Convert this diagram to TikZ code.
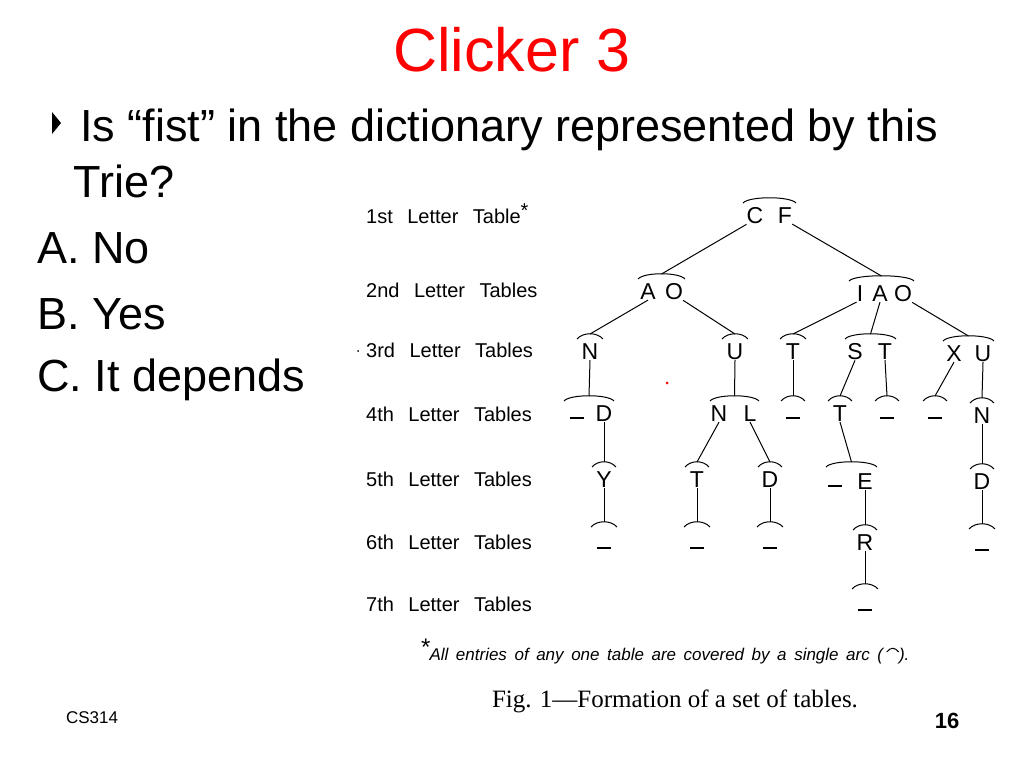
\documentclass[tikz,border=0pt]{standalone}
\usepackage{fontspec}
\setmainfont{Liberation Sans}
\newfontfamily\capfont{Liberation Serif}
\begin{document}
\begin{tikzpicture}[x=1pt,y=-1pt,
  lt/.style={font=\fontsize{23}{23}\selectfont, inner sep=0pt},
  lbl/.style={font=\fontsize{20}{20}\selectfont, anchor=west, inner sep=0pt},
  big/.style={font=\fontsize{45}{45}\selectfont, anchor=west, inner sep=0pt},
  tr/.style={line width=1pt}]
\useasboundingbox (0,0) rectangle (1024,768);
\newcommand{\ub}{\rule[-2pt]{14pt}{2pt}}
\newcommand{\tabarc}[4]{\draw[tr] (#2,#4-13) .. controls (#2+6,#4-20) and (#3-6,#4-20) .. (#3,#4-13); \coordinate (#1) at ({(#2+#3)/2},#4-18);}
% title and text
\node[font=\fontsize{61}{61}\selectfont, text=red] (title) at (512,50) {Clicker 3};
\fill (52,112) -- (52,134) -- (61,123) -- cycle;
\node[big] (q1) at (80,130) {Is “fist” in the dictionary represented by this};
\node[big] (q2) at (73,181) {Trie?};
\node[big] (oa) at (37,248) {A. No};
\node[big] (ob) at (37,314) {B. Yes};
\node[big] (oc) at (37,380) {C. It depends};
\node[font=\fontsize{17}{17}\selectfont, inner sep=0pt] (cs) at (92,718) {CS314};
\node[font=\bfseries\fontsize{22}{22}\selectfont, inner sep=0pt] (pg) at (947,721) {16};
% level labels
\node[lbl] (l1) at (366,214) {1st\;\, Letter\;\, Table\rlap{\raisebox{6pt}{*}}};
\node[lbl] (l2) at (366,290) {2nd\;\, Letter\;\, Tables};
\node[lbl] (l3) at (366,350) {3rd\;\, Letter\;\, Tables};
\node[lbl] (l4) at (366,414) {4th\;\, Letter\;\, Tables};
\node[lbl] (l5) at (366,479) {5th\;\, Letter\;\, Tables};
\node[lbl] (l6) at (366,542) {6th\;\, Letter\;\, Tables};
\node[lbl] (l7) at (366,604) {7th\;\, Letter\;\, Tables};
\fill (358,351) circle (1);
\fill[red] (667,383) circle (1.5);
% footnote and caption
\node[font=\itshape\fontsize{17}{17}\selectfont, anchor=west, inner sep=0pt] (fn) at (420,651) {\raisebox{5pt}{\fontsize{24}{24}\selectfont *}All\, entries\, of\, any\, one\, table\, are\, covered\, by\, a\, single\, arc\, (\hspace{16pt}).};
\draw[tr] ([xshift=-23pt,yshift=-1pt]fn.east) .. controls +(4,-5) and +(-4,-5) .. ([xshift=-11pt,yshift=-1pt]fn.east);
\node[font=\capfont\fontsize{25}{25}\selectfont, inner sep=0pt] (cap) at (675,701) {Fig. 1—Formation of a set of tables.};
% level 1
\node[lt] (c1) at (755,216) {C}; \node[lt] (f1) at (785,216) {F};
\tabarc{k1}{743}{796}{216}
% level 2
\node[lt] (a2) at (648,292) {A}; \node[lt] (o2) at (674,292) {O};
\tabarc{k2a}{638}{685}{292}
\node[lt] (i2) at (860,294) {I}; \node[lt] (a2b) at (880,294) {A}; \node[lt] (o2b) at (903,294) {O};
\tabarc{k2b}{849}{914}{294}
% level 3
\node[lt] (n3) at (590,352) {N}; \tabarc{k3a}{577}{603}{352}
\node[lt] (u3) at (735,352) {U}; \tabarc{k3b}{722}{748}{352}
\node[lt] (t3) at (793,352) {T}; \tabarc{k3c}{780}{806}{352}
\node[lt] (s3) at (855,352) {S}; \node[lt] (t3b) at (885,352) {T}; \tabarc{k3d}{845}{896}{352}
\node[lt] (x3) at (954,354) {X}; \node[lt] (u3b) at (983,354) {U}; \tabarc{k3e}{943}{994}{354}
% level 4
\node[lt] (e4a) at (577,418) {\ub}; \node[lt] (d4) at (604,414) {D}; \tabarc{k4a}{564}{614}{414}
\node[lt] (n4) at (719,414) {N}; \node[lt] (l4b) at (750,414) {L}; \tabarc{k4b}{710}{759}{414}
\node[lt] (e4b) at (793,418) {\ub}; \tabarc{k4c}{781}{805}{414}
\node[lt] (t4) at (840,414) {T}; \tabarc{k4d}{828}{852}{414}
\node[lt] (e4c) at (887,418) {\ub}; \tabarc{k4e}{875}{899}{414}
\node[lt] (e4d) at (935,418) {\ub}; \tabarc{k4f}{923}{947}{414}
\node[lt] (n4b) at (982,416) {N}; \tabarc{k4g}{970}{994}{416}
% level 5
\node[lt] (y5) at (604,480) {Y}; \tabarc{k5a}{592}{616}{480}
\node[lt] (t5) at (697,480) {T}; \tabarc{k5b}{685}{709}{480}
\node[lt] (d5) at (770,480) {D}; \tabarc{k5c}{758}{782}{480}
\node[lt] (e5a) at (835,486) {\ub}; \node[lt] (e5) at (865,482) {E}; \tabarc{k5d}{826}{877}{480}
\node[lt] (d5b) at (982,482) {D}; \tabarc{k5e}{970}{994}{482}
% level 6
\node[lt] (e6a) at (604,548) {\ub}; \tabarc{k6a}{591}{617}{540}
\node[lt] (e6b) at (697,548) {\ub}; \tabarc{k6b}{684}{710}{540}
\node[lt] (e6c) at (770,548) {\ub}; \tabarc{k6c}{757}{783}{540}
\node[lt] (r6) at (865,543) {R}; \tabarc{k6d}{853}{877}{543}
\node[lt] (e6d) at (982,550) {\ub}; \tabarc{k6e}{969}{995}{542}
% level 7
\node[lt] (e7) at (865,610) {\ub}; \tabarc{k7}{852}{878}{602}
% edges
\draw[tr] (c1.south west) -- (k2a);
\draw[tr] (f1.south east) -- (k2b);
\draw[tr] (a2.south) -- (k3a);
\draw[tr] (o2.south east) -- (k3b);
\draw[tr] (i2.south west) -- (k3c);
\draw[tr] (a2b.south) -- (k3d);
\draw[tr] (o2b.south east) -- (k3e);
\draw[tr] (n3.south) -- (k4a);
\draw[tr] (u3.south) -- (k4b);
\draw[tr] (t3.south) -- (k4c);
\draw[tr] (s3.south) -- (k4d);
\draw[tr] (t3b.south) -- (k4e);
\draw[tr] (x3.south) -- (k4f);
\draw[tr] (u3b.south) -- (k4g);
\draw[tr] (d4.south) -- (k5a);
\draw[tr] (n4.south) -- (k5b);
\draw[tr] (l4b.south) -- (k5c);
\draw[tr] (t4.south) -- (k5d);
\draw[tr] (n4b.south) -- (k5e);
\draw[tr] (y5.south) -- (k6a);
\draw[tr] (t5.south) -- (k6b);
\draw[tr] (d5.south) -- (k6c);
\draw[tr] (e5.south) -- (k6d);
\draw[tr] (d5b.south) -- (k6e);
\draw[tr] (r6.south) -- (k7);
\end{tikzpicture}
\end{document}
